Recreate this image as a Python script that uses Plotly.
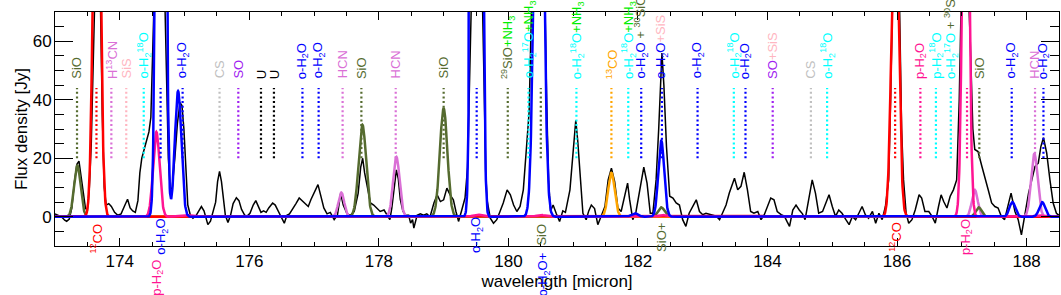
import numpy as np
import plotly.graph_objects as go

# ---------------- colours ----------------
OLIVE = "#556b2f"; RED = "#ff0000"; ORCHID = "#da70d6"; LPINK = "#ffb6c1"
CYAN = "#00ffff"; BLUE = "#0000ff"; SILVER = "#c0c0c0"; PURPLE = "#a020f0"
BLACK = "#000000"; LIME = "#00ee00"; ORANGE = "#ffa500"; DPINK = "#ff1493"

# ---------------- observed spectrum (micron, Jy) ----------------
wl = [173.00,173.05,173.10,173.15,173.18,173.22,173.26,173.30,173.34,173.37,173.40,173.44,173.47,173.50,
      173.53,173.56,173.59,173.62,173.66,173.70,173.73,173.76,173.79,173.83,173.87,173.92,173.97,174.02,
      174.08,174.12,174.16,174.20,174.24,174.28,174.31,174.34,174.37,174.41,174.45,174.48,174.51,174.55,
      174.62,174.68,174.72,174.75,174.78,174.81,174.85,174.89,174.93,174.96,174.99,175.02,175.05,175.09,
      175.13,175.18,175.22,175.26,175.30,175.36,175.40,175.44,175.48,175.51,175.54,175.57,175.60,175.63,
      175.67,175.71,175.75,175.80,175.84,175.88,175.93,175.97,176.01,176.06,176.10,176.14,176.18,176.22,
      176.26,176.30,176.36,176.40,176.44,176.49,176.54,176.58,176.62,176.67,176.72,176.77,176.81,176.86,
      176.91,176.95,177.00,177.06,177.10,177.15,177.20,177.25,177.31,177.36,177.41,177.45,177.51,177.56,
      177.62,177.68,177.72,177.75,177.78,177.82,177.87,177.92,177.97,178.02,178.08,178.13,178.17,178.20,
      178.24,178.27,178.30,178.33,178.37,178.41,178.46,178.49,178.52,178.54,178.59,178.64,178.69,178.74,
      178.79,178.85,178.90,178.95,179.00,179.05,179.10,179.15,179.19,179.23,179.28,179.33,179.37,179.41,
      179.45,179.52,179.58,179.62,179.65,179.67,179.72,179.77,179.82,179.87,179.92,179.98,180.03,180.08,
      180.13,180.18,180.23,180.28,180.32,180.36,180.40,180.50,180.55,180.59,180.62,180.65,180.69,180.74,
      180.79,180.84,180.88,180.95,181.00,181.04,181.07,181.11,181.15,181.20,181.24,181.28,181.33,181.38,
      181.43,181.49,181.54,181.59,181.64,181.69,181.74,181.80,181.84,181.87,181.92,181.97,182.03,182.09,
      182.14,182.19,182.23,182.28,182.32,182.35,182.37,182.40,182.44,182.49,182.54,182.59,182.64,182.69,
      182.74,182.79,182.85,182.90,182.95,183.00,183.05,183.13,183.21,183.26,183.31,183.36,183.41,183.49,
      183.54,183.59,183.64,183.69,183.74,183.79,183.85,183.90,183.95,184.00,184.05,184.10,184.15,184.21,
      184.26,184.30,184.34,184.39,184.44,184.49,184.54,184.58,184.64,184.69,184.74,184.79,184.85,184.90,
      184.95,185.00,185.05,185.10,185.15,185.21,185.26,185.31,185.36,185.41,185.46,185.51,185.56,185.62,
      185.67,185.72,185.77,185.82,185.87,185.90,185.94,186.00,186.04,186.07,186.10,186.14,186.18,186.23,
      186.28,186.34,186.38,186.43,186.49,186.54,186.59,186.64,186.68,186.72,186.77,186.82,186.87,186.92,
      186.96,187.00,187.08,187.13,187.17,187.20,187.25,187.31,187.36,187.41,187.46,187.51,187.56,187.61,
      187.66,187.72,187.76,187.82,187.87,187.92,187.97,188.03,188.08,188.13,188.18,188.22,188.26,188.31,
      188.36,188.41,188.46,188.50]
flux = [1.0,0.5,0.0,-1.2,-1.6,-0.8,3.0,12.0,18.0,19.0,14.0,8.0,3.0,2.0,
        10.0,25.0,50.0,80.0,90.0,75.0,35.0,10.0,4.0,4.5,3.5,1.5,0.5,1.0,
        4.0,6.0,3.0,2.0,1.5,5.5,15.0,20.0,22.5,26.0,29.0,34.0,60.0,90.0,
        95.0,90.0,50.0,20.0,9.0,10.0,20.0,32.0,39.0,38.0,30.0,17.0,4.0,0.5,
        -0.5,0.5,2.0,3.5,2.0,-2.7,-1.5,2.0,5.0,12.0,15.5,12.0,6.0,0.5,
        -2.0,0.5,4.5,6.5,5.5,2.5,0.5,0.3,1.2,4.0,5.5,3.5,1.5,2.0,
        1.5,3.0,4.7,4.0,2.0,0.0,-2.2,0.5,1.0,3.0,4.5,6.4,5.5,4.5,
        3.5,5.8,8.0,11.0,7.5,3.0,1.0,1.5,-1.0,0.5,8.0,4.0,1.0,0.5,
        1.8,8.0,17.0,20.0,15.0,10.0,4.7,4.0,3.0,1.8,2.3,0.5,-1.0,3.0,
        10.0,16.0,13.0,6.0,2.0,0.5,0.5,-2.2,-1.0,-3.9,0.5,1.0,0.5,1.0,
        0.0,4.7,7.5,5.2,5.8,9.8,7.5,5.8,1.8,-1.6,2.3,6.4,17.0,60.0,
        95.0,100.0,95.0,50.0,15.0,5.8,-0.5,-2.2,-1.0,1.8,4.7,9.2,7.5,4.0,
        1.8,3.5,9.2,24.0,36.0,75.0,95.0,100.0,90.0,40.0,12.0,2.0,4.0,1.0,
        -1.6,2.0,1.5,9.2,24.0,33.0,26.0,12.6,1.2,-1.0,2.0,4.0,2.8,-2.7,
        0.0,3.5,12.6,16.6,12.0,3.0,1.8,8.1,11.5,6.0,-1.0,1.8,9.2,17.0,
        11.5,1.2,1.2,12.6,30.0,50.0,56.0,45.0,24.0,7.0,6.4,4.7,4.0,-1.0,
        -3.3,1.2,3.5,5.8,1.8,0.7,1.2,0.7,0.2,-1.0,1.8,4.0,8.1,13.2,
        9.2,10.4,15.2,9.2,1.8,1.2,1.8,-1.0,0.7,3.5,6.4,5.8,1.8,0.7,
        0.2,-1.6,-3.3,2.3,4.0,2.3,1.0,-1.0,7.0,12.6,8.1,1.2,1.8,4.7,
        7.5,3.5,0.1,2.3,1.2,-1.0,-2.7,0.1,-1.0,1.2,3.5,0.7,-0.5,1.8,
        -2.2,1.2,-1.0,3.5,12.6,40.0,85.0,90.0,70.0,30.0,12.6,1.2,-2.2,-1.0,
        2.3,7.5,6.4,1.8,1.8,0.1,-2.2,3.5,7.5,5.2,3.0,7.0,9.2,12.6,
        40.0,85.0,90.0,60.0,30.0,23.0,22.3,17.2,12.6,9.0,4.7,3.5,3.0,0.1,
        -1.0,4.7,8.1,1.8,-1.0,-6.2,0.7,8.1,12.6,17.2,18.3,24.0,27.0,21.8,
        12.6,4.7,1.2,0.5]

# ---------------- fitted line components: centre, peak, width ----------------
orchid_c = [177.42, 178.27, 187.20, 188.12]; orchid_a = [8.3, 20.5, 9.2, 21.5]; orchid_w = [0.045, 0.05, 0.045, 0.05]
olive_c = [173.345, 177.745, 179.00, 182.36, 187.26]; olive_a = [17.5, 31.5, 37.0, 3.2, 3.2]; olive_w = [0.05, 0.058, 0.058, 0.05, 0.045]
orange_c = [181.59]; orange_a = [15.0]; orange_w = [0.05]
red_c = [173.645, 185.97]; red_a = [170.0, 115.0]; red_w = [0.05, 0.052]
pink_c = [174.565, 175.0, 179.52, 180.5, 182.38, 187.06, 188.2]; pink_a = [29.0, 0.6, 0.7, 0.6, 0.6, 180.0, 0.5]
pink_w = [0.05, 0.1, 0.07, 0.07, 0.06, 0.045, 0.08]
blue_c = [174.635, 174.90, 179.51, 180.47, 181.95, 182.36, 187.78, 188.24]
blue_a = [830.0, 43.0, 1800.0, 206.0, 1.2, 26.0, 5.0, 5.0]
blue_w = [0.045, 0.05, 0.045, 0.061, 0.05, 0.045, 0.045, 0.045]

# ---------------- line identification labels ----------------
top_x = [173.34, 173.87, 174.10, 174.37, 174.97, 175.54, 175.83, 176.18, 176.38, 176.82, 177.07, 177.44,
         177.73, 178.26, 179.00, 179.99, 180.31, 181.05, 181.59, 181.85, 182.05, 182.37, 182.92, 183.48,
         183.66, 184.08, 184.67, 184.92, 186.36, 186.60, 186.83, 187.27, 187.77, 188.13, 188.26]
OH2O = "o-H<sub>2</sub>O"; O18 = "o-H<sub>2</sub><sup>18</sup>O"; O17 = "o-H<sub>2</sub><sup>17</sup>O"
PH2O = "p-H<sub>2</sub>O"
NH3 = "+NH<sub>3</sub>"
top_text = [
    [("SiO", OLIVE)], [("H<sup>13</sup>CN", ORCHID)], [("SiS", LPINK)], [(O18, CYAN)], [(OH2O, BLUE)],
    [("CS", SILVER)], [("SO", PURPLE)], [("U", BLACK)], [("U", BLACK)], [(OH2O, BLUE)], [(OH2O, BLUE)],
    [("HCN", ORCHID)], [("SiO", OLIVE)], [("HCN", ORCHID)], [("SiO", OLIVE)],
    [("<sup>29</sup>SiO", OLIVE), (NH3, LIME)], [(O17, CYAN), (NH3, LIME)], [(O18, CYAN), (NH3, LIME)],
    [("<sup>13</sup>CO", ORANGE)], [(O18, CYAN), (NH3, LIME)], [(OH2O, BLUE), (" + <sup>30</sup>SiO", OLIVE)],
    [(OH2O, BLUE), ("+SiS", LPINK)], [(OH2O, BLUE)], [(O18, CYAN)], [(OH2O, BLUE)],
    [("SO", PURPLE), ("+SiS", LPINK)], [("CS", SILVER)], [(O18, CYAN)], [(PH2O, DPINK)],
    [("p-H<sub>2</sub><sup>18</sup>O", CYAN)], [(O17, CYAN), (" + <sup>30</sup>SiO", OLIVE)],
    [("SiO", OLIVE)], [(OH2O, BLUE)], [("HCN", ORCHID)], [(OH2O, BLUE)]]

extra_mark_x = [173.64, 174.63, 179.51, 180.50, 185.97, 187.08]
extra_mark_col = [RED, BLUE, BLUE, OLIVE, RED, DPINK]

bot_x = [173.64, 174.65, 179.51, 180.51, 182.36, 185.97, 187.07]
bot_text = ["<sup>12</sup>CO", OH2O, OH2O, "SiO", "SiO+", "<sup>12</sup>CO", PH2O]
bot_col = [RED, BLUE, BLUE, OLIVE, OLIVE, RED, DPINK]
bot_y = [-1.5, 0.0, 0.5, -1.5, -1.5, -1.0, 0.0]
low_x = [174.57, 180.54]
low_text = [PH2O, OH2O + "+"]
low_col = [DPINK, BLUE]
low_shift = [-12, -4]

XMIN, XMAX, YMIN, YMAX = 173.0, 188.5, -10.0, 70.0

fig = go.Figure()

# observed spectrum
fig.add_trace(go.Scatter(x=wl, y=flux, mode="lines", line=dict(color=BLACK, width=1.5), showlegend=False))

grid = np.arange(XMIN, XMAX + 0.0001, 0.004)
def model(cs, amps, ws):
    g = np.zeros_like(grid)
    for c, a, w in zip(cs, amps, ws):
        g += a * np.exp(-0.5 * ((grid - c) / w) ** 2)
    return g

for (cs, amps, ws, col) in [(orchid_c, orchid_a, orchid_w, ORCHID), (olive_c, olive_a, olive_w, OLIVE),
                            (orange_c, orange_a, orange_w, ORANGE), (red_c, red_a, red_w, RED),
                            (pink_c, pink_a, pink_w, DPINK), (blue_c, blue_a, blue_w, BLUE)]:
    fig.add_trace(go.Scatter(x=grid, y=model(cs, amps, ws), mode="lines",
                             line=dict(color=col, width=2.5), showlegend=False))

# dotted marker lines
mark_x = list(top_x) + extra_mark_x
mark_col = [t[0][1] for t in top_text] + extra_mark_col
for col in dict.fromkeys(mark_col):
    xs, ys = [], []
    for mx, mc in zip(mark_x, mark_col):
        if mc == col:
            xs += [mx, mx, None]; ys += [20, 44, None]
    fig.add_trace(go.Scatter(x=xs, y=ys, mode="lines", showlegend=False,
                             line=dict(color=col, width=2.2, dash="2px,2.6px")))

def html(segs):
    return "".join(f"<span style='color:{c}'>{t}</span>" for t, c in segs)

LBL = 13
ann = []
for x, segs in zip(top_x, top_text):
    ann.append(dict(x=x, y=46.5, xref="x", yref="y", text=html(segs), showarrow=False, textangle=-90,
                    xanchor="center", yanchor="bottom", font=dict(size=LBL, color=segs[0][1])))
for x, t, c, y in zip(bot_x, bot_text, bot_col, bot_y):
    ann.append(dict(x=x, y=y, xref="x", yref="y", text=t, showarrow=False, textangle=-90,
                    xanchor="center", yanchor="top", font=dict(size=LBL, color=c)))
for x, t, c, s in zip(low_x, low_text, low_col, low_shift):
    ann.append(dict(x=x, y=YMIN, xref="x", yref="y", text=t, showarrow=False, textangle=-90, yshift=s,
                    xanchor="center", yanchor="top", font=dict(size=LBL, color=c)))

axis_common = dict(showgrid=False, zeroline=False, showline=True, linecolor="black", linewidth=1,
                   mirror="ticks", ticks="inside", tickcolor="black",
                   tickfont=dict(size=17, color="black"))
fig.update_layout(
    width=1061, height=295, margin=dict(l=55, r=2, t=12, b=49),
    paper_bgcolor="white", plot_bgcolor="white",
    font=dict(family="Liberation Sans, Arial, sans-serif", color="black"),
    annotations=ann,
    xaxis=dict(range=[XMIN, XMAX], tickvals=[174, 176, 178, 180, 182, 184, 186, 188], ticklen=8,
               minor=dict(dtick=0.5, ticklen=4, ticks="inside", tickcolor="black"),
               title=dict(text="wavelength [micron]", font=dict(size=17), standoff=4), **axis_common),
    yaxis=dict(range=[YMIN, YMAX], tickvals=[0, 20, 40, 60], ticklen=18, ticklabelstandoff=-1,
               minor=dict(dtick=5, ticklen=9, ticks="inside", tickcolor="black"),
               title=dict(text="Flux density [Jy]", font=dict(size=17), standoff=0), **axis_common),
)
fig.write_html("out.html", config={"displayModeBar": False},
               post_script="document.body.style.margin='0';")
